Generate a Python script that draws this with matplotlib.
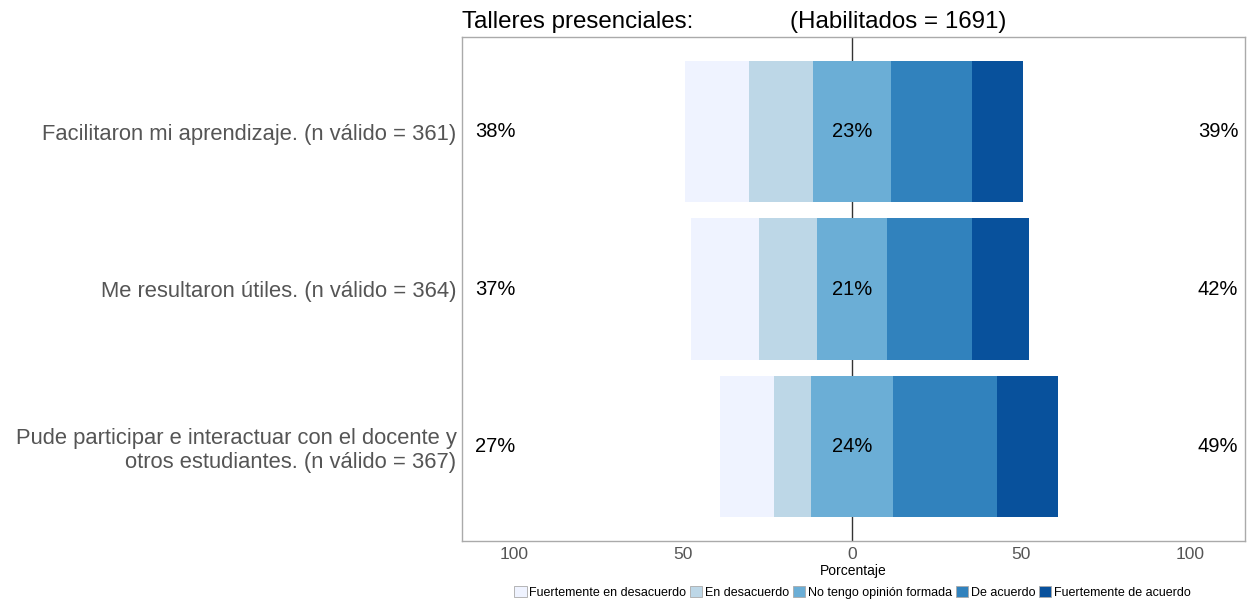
import matplotlib.pyplot as plt
import numpy as np
from matplotlib.patches import Patch

plt.rcParams['font.family'] = ['Liberation Sans', 'DejaVu Sans']

# datos
preguntas = ['Facilitaron mi aprendizaje. (n válido = 361)',
             'Me resultaron útiles. (n válido = 364)',
             'Pude participar e interactuar con el docente y\notros estudiantes. (n válido = 367)']
niveles = ['Fuertemente en desacuerdo', 'En desacuerdo', 'No tengo opinión formada',
           'De acuerdo', 'Fuertemente de acuerdo']
colores = ['#EFF3FF', '#BDD7E7', '#6BAED6', '#3182BD', '#08519C']

fuerte_desac = [19, 20, 16]
desac = [19, 17, 11]
neutral = [23, 21, 24]
acuerdo = [24, 25, 31]
fuerte_ac = [15, 17, 18]

pct_izq = ['38%', '37%', '27%']
pct_centro = ['23%', '21%', '24%']
pct_der = ['39%', '42%', '49%']

fig = plt.figure(figsize=(12.48, 6.03), dpi=100)
ax = fig.add_axes([0.3702, 0.1028, 0.9976 - 0.3702, 0.9386 - 0.1028])

y = np.arange(len(preguntas))
fd = np.array(fuerte_desac); d = np.array(desac); n = np.array(neutral)
a = np.array(acuerdo); fa = np.array(fuerte_ac)

h = 0.9
ax.barh(y, -fd, left=-n / 2 - d, height=h, color=colores[0])
ax.barh(y, -d, left=-n / 2, height=h, color=colores[1])
ax.barh(y, n, left=-n / 2, height=h, color=colores[2])
ax.barh(y, a, left=n / 2, height=h, color=colores[3])
ax.barh(y, fa, left=n / 2 + a, height=h, color=colores[4])

ax.axvline(0, color='#333333', lw=1, zorder=0)

for i in range(len(preguntas)):
    ax.text(-105.6, y[i], pct_izq[i], ha='center', va='center', fontsize=14.5)
    ax.text(0, y[i], pct_centro[i], ha='center', va='center', fontsize=14.5)
    ax.text(108.3, y[i], pct_der[i], ha='center', va='center', fontsize=14.5)

ax.set_xlim(-115.4, 116.3)
ax.set_ylim(2.6, -0.6)
ax.set_yticks(y)
ax.set_yticklabels(preguntas, fontsize=15.8, color='#555555')
ax.set_xticks([-100, -50, 0, 50, 100])
ax.set_xticklabels(['100', '50', '0', '50', '100'], fontsize=12.5, color='#555555')
ax.tick_params(length=0, pad=4)
ax.tick_params(axis='y', pad=4)
ax.set_xlabel('Porcentaje', fontsize=10, labelpad=2)
for s in ax.spines.values():
    s.set_color('#AAAAAA')
    s.set_linewidth(1)

fig.text(0.3702, 0.963, 'Talleres presenciales:', fontsize=17.4, va='center', ha='left')
fig.text(0.633, 0.963, '(Habilitados = 1691)', fontsize=17.4, va='center', ha='left')

handles = [Patch(facecolor=c, edgecolor='#AAAAAA', lw=0.6) for c in colores]
fig.legend(handles, niveles, loc='center', bbox_to_anchor=(0.683, 0.018), ncol=5,
           frameon=False, fontsize=9, handlelength=1.0, handleheight=1.0,
           handletextpad=0.2, columnspacing=0.3, borderaxespad=0)

fig.savefig('out.png', dpi=100)
